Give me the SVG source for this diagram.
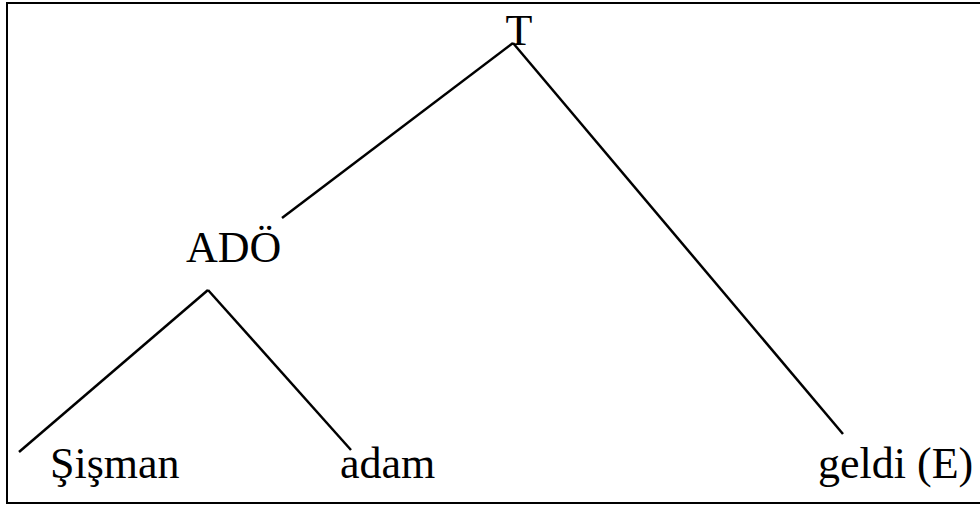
<svg xmlns="http://www.w3.org/2000/svg" width="980" height="506" viewBox="0 0 980 506">
<style>
.t{font-family:"Liberation Serif","Times New Roman",serif;font-size:44px;fill:#000}
.e{stroke:#000;stroke-width:2.5;fill:none}
</style>
<rect x="0" y="0" width="980" height="506" fill="#fff"/>
<rect x="7" y="3" width="985" height="500" fill="none" stroke="#000" stroke-width="2"/>
<g id="connectors">
<line class="e" x1="513" y1="43" x2="282" y2="218"/>
<line class="e" x1="513" y1="43" x2="843" y2="434"/>
<line class="e" x1="208" y1="290" x2="19" y2="452"/>
<line class="e" x1="208" y1="290" x2="351" y2="450"/>
</g>
<g id="T"><text class="t" x="519" y="45" text-anchor="middle">T</text></g>
<g id="ADO"><text class="t" x="186" y="262">ADÖ</text></g>
<g id="sisman"><text class="t" x="50" y="478">Şişman</text></g>
<g id="adam"><text class="t" x="340" y="478">adam</text></g>
<g id="geldi"><text class="t" x="818" y="478">geldi (E)</text></g>
</svg>
